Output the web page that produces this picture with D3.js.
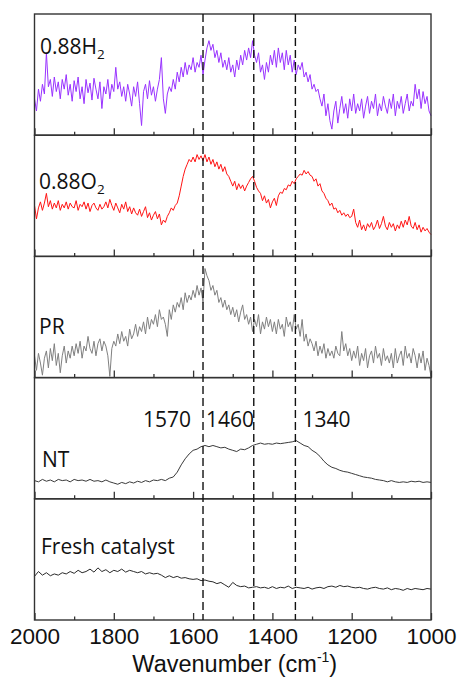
<!DOCTYPE html>
<html><head><meta charset="utf-8">
<script src="https://cdn.jsdelivr.net/npm/d3@7"></script>
<style>body{margin:0;background:#fff}svg{display:block}</style>
</head><body>
<svg id="chart" width="458" height="680"></svg>
<script>
// Wavenumber grids (cm-1), 2000 -> 1000
const wavenumbersFine = d3.range(2000, 999, -5);   // step 5
const wavenumbers = d3.range(2000, 999, -10);      // step 10

const h2Values = [
30,20,38,28,42,34,68,40,46,32,48,36,44,30,46,38,50,33,42,28,
45,36,48,30,40,26,46,35,43,29,47,38,30,44,22,40,34,46,30,42,
36,56,38,44,32,40,28,42,34,24,40,32,44,26,8,36,42,30,45,33,
40,28,38,46,64,30,18,34,40,36,46,38,52,44,56,48,60,50,58,54,
64,52,60,56,66,50,62,72,78,70,75,64,70,60,68,56,62,54,64,52,
58,48,62,54,66,58,70,62,72,64,78,66,60,68,52,58,46,60,52,66,
58,70,56,72,60,68,54,70,58,66,52,62,50,58,54,60,48,52,44,50,
38,42,36,38,30,24,34,16,26,12,5,20,28,10,22,32,18,26,14,30,
20,34,18,26,20,30,14,24,32,18,28,22,34,16,26,20,32,24,18,30,
22,34,16,28,22,32,18,26,34,20,28,24,42,30,38,22,36,26,32,20,
16];
const o2Values = [
42,31,40,45,38,44,52,41,46,39,44,40,46,38,43,40,45,39,44,41,
40,46,38,43,41,45,39,44,37,42,44,40,38,43,39,41,45,40,47,42,
38,44,40,36,43,39,45,37,41,35,40,36,34,39,33,37,41,32,36,30,
34,37,31,35,26,30,28,33,36,40,38,42,44,50,58,66,72,76,80,78,
82,78,84,80,83,79,84,78,82,76,80,74,78,72,76,70,74,68,66,62,
58,62,55,60,56,59,54,58,61,64,66,62,57,54,52,46,50,44,47,40,
45,48,42,50,53,52,56,55,59,58,62,60,64,66,68,67,71,68,70,67,
66,62,64,58,60,54,52,48,46,42,44,39,40,36,38,34,36,33,35,32,
33,39,28,24,30,22,26,21,27,24,28,22,25,30,23,27,33,25,22,28,
24,27,21,26,23,29,24,30,26,33,25,23,28,22,26,20,24,21,23,20,
18];
const prValues = [
18,6,20,12,2,16,22,8,24,14,28,10,20,4,18,26,12,22,16,26,
18,28,20,30,16,26,22,34,24,20,30,18,28,32,22,30,26,18,1,24,
30,26,36,28,38,30,34,26,40,32,36,44,34,42,38,46,36,50,40,48,
44,52,42,56,48,50,44,34,56,48,60,54,62,58,66,56,70,62,68,64,
72,66,76,68,74,62,90,84,80,72,76,68,72,62,66,58,64,56,60,52,
58,50,56,46,54,60,48,52,44,50,38,48,42,52,36,46,40,50,42,48,
38,46,36,48,40,44,34,50,42,46,38,52,40,44,34,48,30,36,26,32,
28,22,30,18,26,20,28,16,24,18,22,16,26,20,18,38,22,28,18,24,
14,22,16,26,10,20,14,24,8,18,22,12,26,16,20,10,24,14,18,12,
20,8,24,12,18,22,10,26,16,20,12,24,18,8,20,12,22,6,16,10,
1];
const ntValues = [15,14,16,14.5,15.5,14,16,15,15.5,14,16,15,15.5,14.5,16,14.5,15,14,15.5,14,13,12,13.5,12.5,14,13,14.5,13.5,15,14,15.5,15,16,15,17,18,22,28,33,37,40,41,43,44,43,44,43,42,42.5,41,40,39,41,40.5,42,44,45,46,45,45.5,45,46,45.5,46,46.5,47,48,46,44,43,40,38,35,31,28,26,25,23.5,22.5,22,21,20,19,18,17.5,17,16,15.5,15,14,15,14,13.5,14,13.5,14.5,14,14.5,13.5,14,13.5];
const freshValues = [36,40,37,39,36.5,38,37,39,38,40,38.5,41,39,40,42,39.5,43,40,41.5,39,41,40,42,39.5,41,40,39,40,38,39,38,38.5,37,35,36.5,35,36,34.5,35,34,33.5,34,32.5,33,32,31.5,30,31,29,27,31,28.5,27.5,28,26.5,27,27.5,26.5,27,26,27.5,26,27,26.5,28,26,27,26.5,26,27,25.5,26.5,27,26,27.5,28,27,28.5,27.5,28,27,26.5,27,26,25.5,26.5,27,26,25.5,26.5,25,26,25.5,24.5,26,25,26,25.5,25,26,25.5];

const seriesNames = ["0.88H2", "0.88O2", "PR", "NT", "Fresh catalyst"];
const seriesColors = ["#9933ff", "#ff1414", "#808080", "#3a3a3a", "#2a2a2a"];
const peakPositions = [1575, 1447, 1342];
const peakLabels = ["1570", "1460", "1340"];
const majorTicks = [2000, 1800, 1600, 1400, 1200, 1000];
const minorTicks = [1900, 1700, 1500, 1300, 1100];

const allSeries = [
  [wavenumbersFine, h2Values], [wavenumbersFine, o2Values], [wavenumbersFine, prValues],
  [wavenumbers, ntValues], [wavenumbers, freshValues]
];

const svg = d3.select("#chart");
const mLeft = 34.5, mRight = 431, mTop = 14, mBottom = 620;
const nP = allSeries.length;
const ph = (mBottom - mTop) / nP;

const x = d3.scaleLinear().domain([2000, 1000]).range([mLeft, mRight]);

allSeries.forEach(([ws, vals], i) => {
  const y0 = mTop + i * ph, y1 = y0 + ph;
  const y = d3.scaleLinear().domain([0, 100]).range([y1, y0]);
  const g = svg.append("g");
  const data = ws.map((w, k) => [w, vals[k]]);
  g.append("path").datum(data)
    .attr("fill", "none").attr("stroke", seriesColors[i]).attr("stroke-width", 1)
    .attr("stroke-linejoin", "round")
    .attr("d", d3.line().x(d => x(d[0])).y(d => y(d[1])));

  const isLast = i === nP - 1;
  const ax = g.append("g").attr("transform", `translate(0,${y1})`)
    .call(d3.axisBottom(x).tickValues(majorTicks).tickSize(-7).tickPadding(8)
      .tickFormat(isLast ? d3.format("d") : () => ""));
  ax.select(".domain").remove();
  ax.selectAll("line").attr("stroke", "#333").attr("stroke-width", 1.3);
  ax.selectAll("text").attr("font-family", "'Liberation Sans', Arial, sans-serif")
    .attr("font-size", 22.5).attr("fill", "#111");
  const ax2 = g.append("g").attr("transform", `translate(0,${y1})`)
    .call(d3.axisBottom(x).tickValues(minorTicks).tickSize(-3.5).tickFormat(() => ""));
  ax2.select(".domain").remove();
  ax2.selectAll("line").attr("stroke", "#333").attr("stroke-width", 1.3);

  g.append("rect").attr("x", mLeft).attr("y", y0).attr("width", mRight - mLeft).attr("height", ph)
    .attr("fill", "none").attr("stroke", "#333").attr("stroke-width", 1.4);
});

svg.append("g").selectAll("line").data(peakPositions).join("line")
  .attr("x1", d => x(d)).attr("x2", d => x(d)).attr("y1", mTop).attr("y2", mBottom)
  .attr("stroke", "#111").attr("stroke-width", 1.4).attr("stroke-dasharray", "8,4");

const labelFont = "'Open Sans', 'Noto Sans', sans-serif";
const labelPos = [[40, 54], [39, 189], [39, 334], [42, 467], [41, 554]];
function addLabel(txt, px, py) {
  const t = svg.append("text").attr("x", px).attr("y", py)
    .attr("font-family", labelFont).attr("font-size", 21).attr("fill", "#111");
  const m = txt.match(/^(0\.88[HO])(2)$/);
  if (m) {
    t.append("tspan").text(m[1]);
    t.append("tspan").attr("font-size", 13.5).attr("dy", 5).text(m[2]);
  } else t.text(txt);
}
seriesNames.forEach((n, i) => addLabel(n, labelPos[i][0], labelPos[i][1]));

// peak labels in NT panel: 1570 left of first dash, 1460 between first and second, 1340 right of third
const peakLabelX = [x(peakPositions[0]) - 12, x(peakPositions[0]) + 3, x(peakPositions[2]) + 7];
const peakAnchors = ["end", "start", "start"];
peakLabels.forEach((lab, i) => {
  svg.append("text").attr("x", peakLabelX[i]).attr("y", 427)
    .attr("text-anchor", peakAnchors[i])
    .attr("font-family", labelFont).attr("font-size", 21).attr("fill", "#111").text(lab);
});

const title = svg.append("text").attr("x", (mLeft + mRight) / 2 + 2).attr("y", 672)
  .attr("text-anchor", "middle").attr("font-family", "'Liberation Sans', Arial, sans-serif")
  .attr("font-size", 23.5).attr("fill", "#111");
title.append("tspan").text("Wavenumber (cm");
title.append("tspan").attr("font-size", 14).attr("dy", -10).text("-1");
title.append("tspan").attr("dy", 10).text(")");
</script>
</body></html>
